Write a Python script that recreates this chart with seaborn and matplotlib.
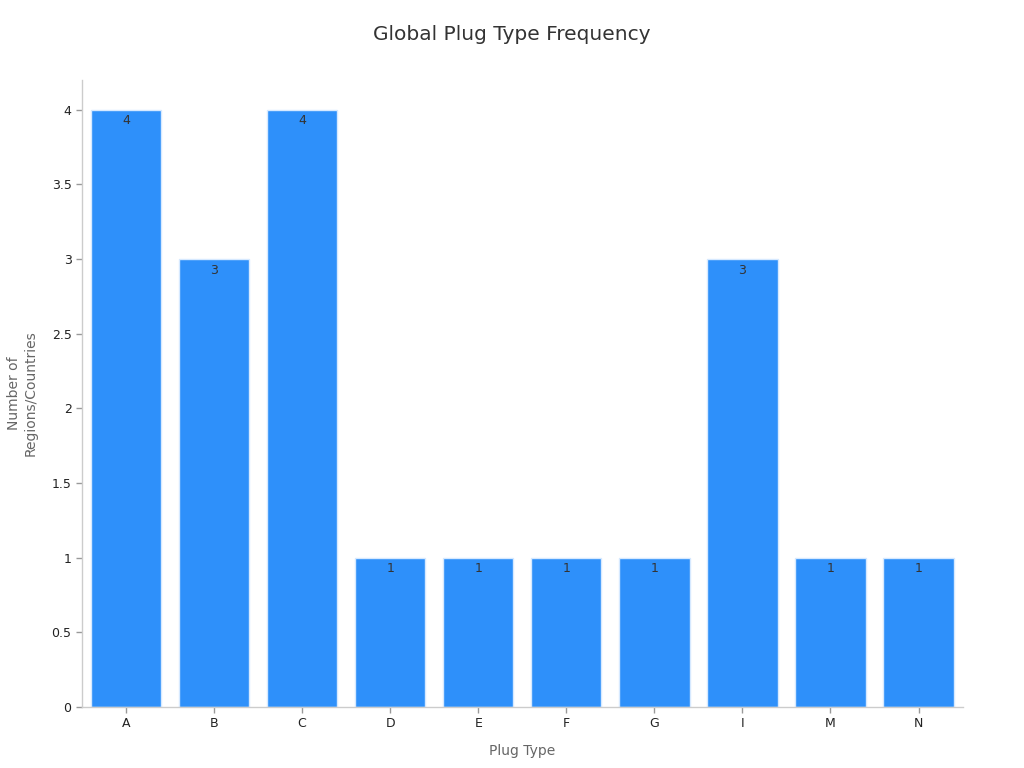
import matplotlib
matplotlib.use("Agg")
import matplotlib.pyplot as plt
import seaborn as sns
import pandas as pd
from matplotlib.ticker import FuncFormatter, MultipleLocator

plug_types = ["A", "B", "C", "D", "E", "F", "G", "I", "M", "N"]
counts = [4, 3, 4, 1, 1, 1, 1, 3, 1, 1]

df = pd.DataFrame({"Plug Type": plug_types, "Count": counts})

sns.set_theme(style="white")
plt.rcParams["font.family"] = ["DejaVu Sans"]

fig = plt.figure(figsize=(10.24, 7.68), dpi=100)
ax = fig.add_axes([0.080, 0.0794, 0.860, 0.8166])

sns.barplot(data=df, x="Plug Type", y="Count", color="#2E90FA", saturation=1,
            width=0.8, edgecolor="#D6E9FF", linewidth=1, ax=ax)

for i, v in enumerate(counts):
    ax.text(i, v - 0.03, f"{v}", ha="center", va="top", fontsize=9, color="#333333")

ax.set_xlim(-0.5, 9.5)
ax.set_ylim(0, 4.2)
ax.yaxis.set_major_locator(MultipleLocator(0.5))
ax.yaxis.set_major_formatter(FuncFormatter(lambda v, p: f"{v:g}"))

for s in ["top", "right"]:
    ax.spines[s].set_visible(False)
for s in ["left", "bottom"]:
    ax.spines[s].set_color("#CCCCCC")
    ax.spines[s].set_linewidth(1)

ax.tick_params(axis="both", which="major", length=4, width=1, color="#999999",
               labelsize=9, labelcolor="#222222", bottom=True, left=True)

ax.set_xlabel("Plug Type", fontsize=10, color="#666666", labelpad=10)
ax.set_ylabel("Number of\nRegions/Countries", fontsize=10, color="#666666", labelpad=10)
fig.suptitle("Global Plug Type Frequency", fontsize=14.5, color="#333333", y=0.968)

fig.savefig("out.png", dpi=100)
